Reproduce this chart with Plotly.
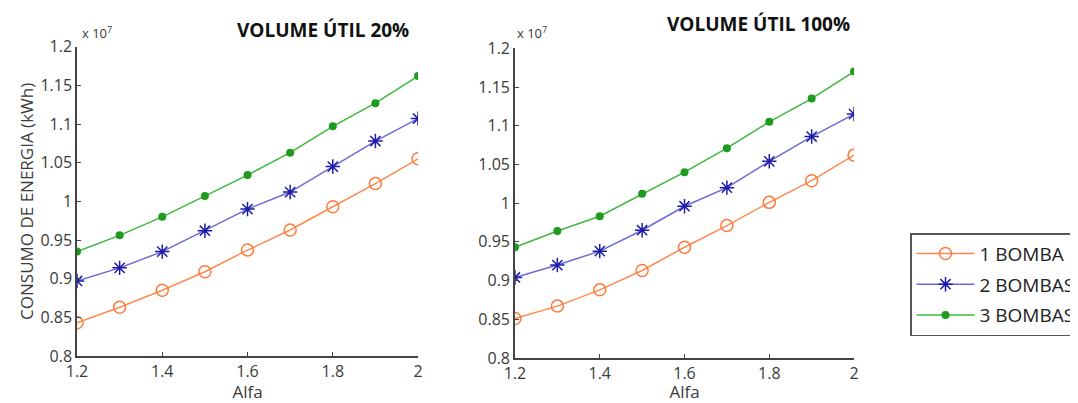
import plotly.graph_objects as go

alfa = [1.2, 1.3, 1.4, 1.5, 1.6, 1.7, 1.8, 1.9, 2.0]

# Values in units of 1e7 kWh
v20_1 = [0.843, 0.863, 0.885, 0.909, 0.937, 0.963, 0.993, 1.023, 1.055]
v20_2 = [0.897, 0.914, 0.935, 0.962, 0.990, 1.012, 1.045, 1.078, 1.107]
v20_3 = [0.935, 0.956, 0.980, 1.007, 1.034, 1.063, 1.097, 1.127, 1.162]

v100_1 = [0.851, 0.867, 0.888, 0.913, 0.943, 0.971, 1.001, 1.029, 1.062]
v100_2 = [0.904, 0.920, 0.938, 0.965, 0.996, 1.020, 1.054, 1.086, 1.115]
v100_3 = [0.943, 0.964, 0.983, 1.012, 1.040, 1.071, 1.105, 1.135, 1.170]

series_names = ["1 BOMBA", "2 BOMBAS", "3 BOMBAS"]
titles = ["VOLUME ÚTIL 20%", "VOLUME ÚTIL 100%"]
yticks = [0.8, 0.85, 0.9, 0.95, 1.0, 1.05, 1.1, 1.15, 1.2]
ytick_text = ["0.8", "0.85", "0.9", "0.95", "1", "1.05", "1.1", "1.15", "1.2"]
xticks = [1.2, 1.4, 1.6, 1.8, 2.0]
xtick_text = ["1.2", "1.4", "1.6", "1.8", "2"]

styles = [
    dict(line=dict(color="#ff8a50", width=1.5),
         marker=dict(symbol="circle-open", size=12, color="#ff7a3a", line=dict(width=1.5))),
    dict(line=dict(color="#6a6ad8", width=1.5),
         marker=dict(symbol="asterisk-open", size=12, color="#1c1ca8", line=dict(width=1.5, color="#1c1ca8"))),
    dict(line=dict(color="#3cb83c", width=1.5),
         marker=dict(symbol="circle", size=8, color="#1f9a1f")),
]

fig = go.Figure()
data_sets = [[v20_1, v20_2, v20_3], [v100_1, v100_2, v100_3]]
for p, sets in enumerate(data_sets):
    xa = "x" if p == 0 else "x2"
    ya = "y" if p == 0 else "y2"
    for i, vals in enumerate(sets):
        fig.add_trace(go.Scatter(
            x=alfa, y=vals, mode="lines+markers", name=series_names[i],
            legendgroup="g%d" % i,
            showlegend=(p == 0), xaxis=xa, yaxis=ya, **styles[i]))

FONT = "Open Sans"
axis_font = dict(family=FONT, size=16, color="#3a3a3a")
common_x = dict(range=[1.2, 2.0], tickvals=xticks, ticktext=xtick_text, showgrid=False,
                zeroline=False, showline=True, linecolor="#444", linewidth=1.5,
                ticks="inside", ticklen=4, tickcolor="#444", tickfont=axis_font,
                title=dict(text="Alfa", font=dict(family=FONT, size=17, color="#3a3a3a"), standoff=4))
common_y = dict(range=[0.8, 1.2], tickvals=yticks, ticktext=ytick_text, showgrid=False,
                zeroline=False, showline=True, linecolor="#444", linewidth=1.5,
                ticks="inside", ticklen=4, tickcolor="#444", tickfont=axis_font)

fig.update_layout(
    width=1070, height=395,
    margin=dict(l=0, r=0, t=0, b=0, autoexpand=False),
    paper_bgcolor="white", plot_bgcolor="white",
    xaxis=dict(domain=[0.0645, 0.3832], anchor="y", **common_x),
    yaxis=dict(domain=[0.119, 0.902], anchor="x",
               title=dict(text="CONSUMO DE ENERGIA (kWh)",
                          font=dict(family=FONT, size=17, color="#3a3a3a"), standoff=2),
               **common_y),
    xaxis2=dict(domain=[0.4738, 0.7907], anchor="y2", **common_x),
    yaxis2=dict(domain=[0.114, 0.898], anchor="x2", **common_y),
    legend=dict(x=0.843, y=0.43, xanchor="left", yanchor="top",
                bordercolor="#555", borderwidth=1.5, bgcolor="white",
                font=dict(family=FONT, size=19, color="#222"),
                traceorder="grouped", tracegroupgap=3, itemwidth=58),
    showlegend=True,
)

annos = [
    dict(text="<b>" + titles[0] + "</b>", x=0.2944, y=0.944),
    dict(text="<b>" + titles[1] + "</b>", x=0.701, y=0.9595),
]
for a in annos:
    fig.add_annotation(xref="paper", yref="paper", x=a["x"], y=a["y"], text=a["text"],
                       showarrow=False, xanchor="center", yanchor="middle",
                       font=dict(family=FONT, size=19, color="#111"))
for xp, yp in [(0.0673, 0.937), (0.4738, 0.937)]:
    fig.add_annotation(xref="paper", yref="paper", x=xp, y=yp, text="x 10<sup>7</sup>",
                       showarrow=False, xanchor="left", yanchor="middle",
                       font=dict(family=FONT, size=13, color="#3a3a3a"))

fig.write_html("out.html")
